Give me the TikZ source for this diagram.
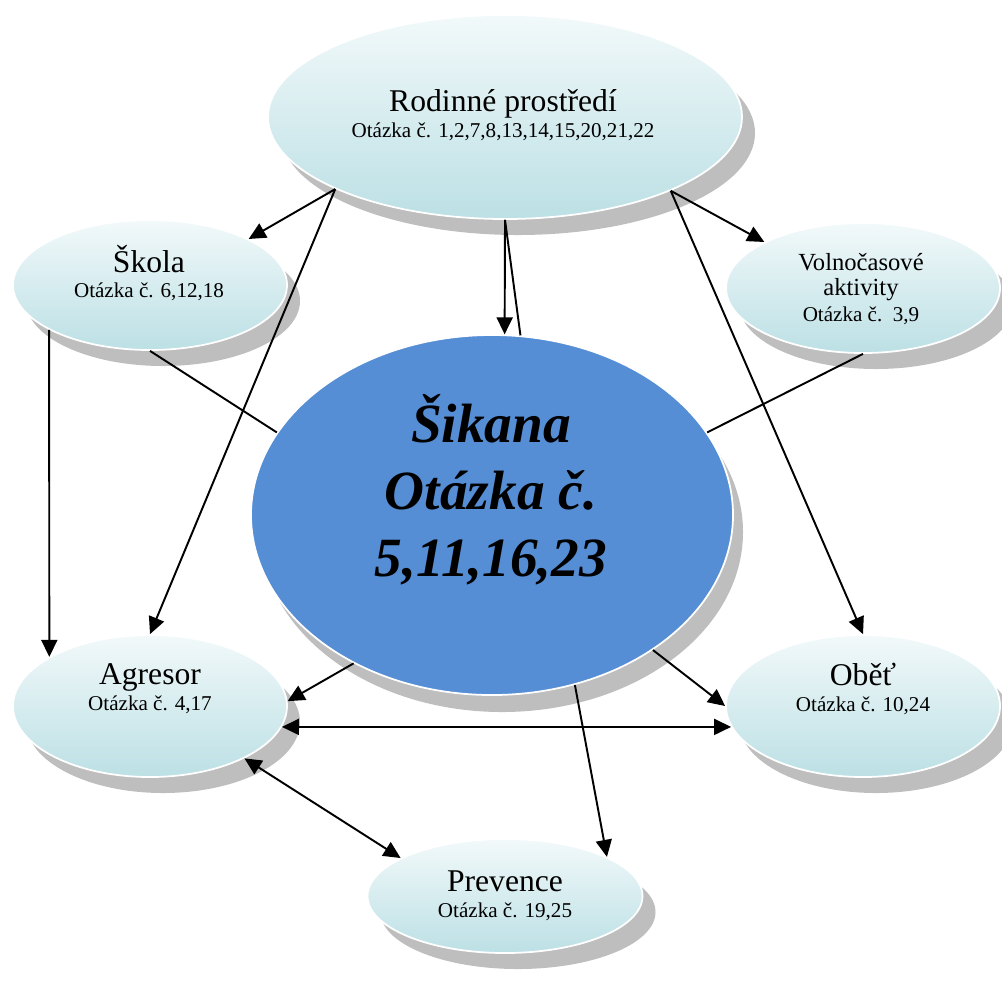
\documentclass[tikz,border=0pt]{standalone}
\usepackage{fontspec}
\setmainfont{Liberation Serif}
\usetikzlibrary{shapes.geometric,shadows,arrows.meta}

\definecolor{bubbletop}{RGB}{242,249,250}
\definecolor{bubblebot}{RGB}{188,224,229}
\definecolor{sikblue}{RGB}{85,142,213}
\definecolor{shadowgray}{RGB}{190,190,190}

\begin{document}
\begin{tikzpicture}[x=0.2mm, y=-0.2mm,
  bubble/.style={ellipse, draw=white, line width=1pt, top color=bubbletop, bottom color=bubblebot, inner sep=0pt,
    drop shadow={shadow xshift=0.26cm, shadow yshift=-0.32cm, fill=shadowgray, opacity=1}},
  txt/.style={align=center, inner sep=0pt, font=\fontsize{12pt}{14.7pt}\selectfont},
  arr/.style={line width=1.1pt, -{Triangle[length=0.34cm, width=0.32cm]}},
  arrboth/.style={line width=1.1pt, {Triangle[length=0.34cm, width=0.32cm]}-{Triangle[length=0.34cm, width=0.32cm]}},
  conn/.style={line width=1.1pt}]

  \useasboundingbox (0,0) rectangle (1002,1001);

  % elipsy
  \node[bubble, minimum width=9.48cm, minimum height=4.08cm] (rod) at (505,117) {};
  \node[bubble, minimum width=5.48cm, minimum height=2.6cm] (sko) at (150,285) {};
  \node[bubble, minimum width=5.48cm, minimum height=2.6cm] (vol) at (863,288) {};
  \node[bubble, minimum width=5.48cm, minimum height=2.84cm] (agr) at (150,706) {};
  \node[bubble, minimum width=5.48cm, minimum height=2.84cm] (obe) at (863,706) {};
  \node[bubble, minimum width=5.5cm, minimum height=2.28cm] (pre) at (505,896) {};
  \node[ellipse, draw=white, line width=1pt, fill=sikblue, inner sep=0pt, minimum width=9.64cm, minimum height=7.2cm,
    drop shadow={shadow xshift=0.2cm, shadow yshift=-0.34cm, fill=shadowgray, opacity=1}] (sik) at (492,515) {};

  % texty
  \node[txt] (rodT) at (503,115) {{\fontsize{18pt}{14.7pt}\selectfont Rodinné prostředí}\\Otázka č. 1,2,7,8,13,14,15,20,21,22};
  \node[txt] (skoT) at (149,273) {{\fontsize{18pt}{14.7pt}\selectfont Škola}\\Otázka č. 6,12,18};
  \node[txt] (volT) at (861,289) {{\fontsize{14pt}{14.7pt}\selectfont Volnočasové}\\{\fontsize{14pt}{14.7pt}\selectfont aktivity}\\Otázka č.~~3,9};
  \node[txt] (agrT) at (150,689) {{\fontsize{18pt}{14.7pt}\selectfont Agresor}\\Otázka č. 4,17};
  \node[txt] (obeT) at (863,689) {{\fontsize{18pt}{14.7pt}\selectfont Oběť}\\Otázka č. 10,24};
  \node[txt] (preT) at (505,896) {{\fontsize{18pt}{14.7pt}\selectfont Prevence}\\Otázka č. 19,25};
  \node[align=center, inner sep=0pt, font=\fontsize{31.5pt}{38pt}\selectfont\bfseries\itshape] (sikT) at (491,490)
    {Šikana\\Otázka č.\\5,11,16,23};

  % vazby
  \draw[arr] (rod.203) -- (sko.25);
  \draw[arr] (rod.203) -- (agr.north);
  \draw[arr] (rod.south) -- (sik.86);
  \draw[conn] (rod.south) -- (sik.81);
  \draw[arr] (rod.-24) -- (vol.155);
  \draw[arr] (rod.-24) -- (obe.north);
  \draw[arr] (sko.204) -- (agr.154);
  \draw[conn] (sko.south) -- (sik.159);
  \draw[conn] (vol.south) -- (sik.21);
  \draw[arr] (sik.227) -- (agr.2);
  \draw[arr] (sik.-40) -- (obe.west);
  \draw[arrboth] (agr.-9) -- (obe.189);
  \draw[arrboth] (agr.-29) -- (pre.160);
  \draw[arr] (sik.-64) -- (pre.21);

\end{tikzpicture}
\end{document}
